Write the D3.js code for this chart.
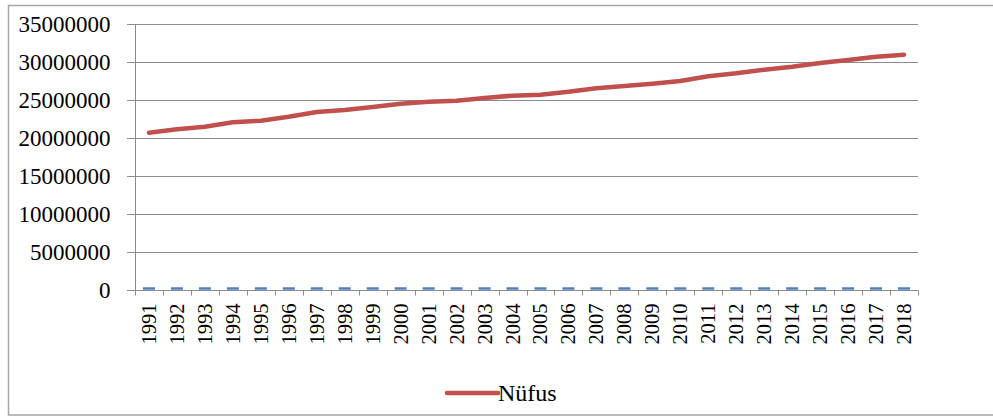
<!DOCTYPE html>
<html>
<head>
<meta charset="utf-8">
<script src="https://cdn.jsdelivr.net/npm/d3@7"></script>
<style>
  body { margin: 0; background: #fff; }
  svg { display: block; }
  text { font-family: "Liberation Serif", "Times New Roman", serif; fill: #000; }
</style>
</head>
<body>
<div id="chart"></div>
<script>
// years on the category axis
const years = [1991, 1992, 1993, 1994, 1995, 1996, 1997, 1998, 1999, 2000,
  2001, 2002, 2003, 2004, 2005, 2006, 2007, 2008, 2009, 2010,
  2011, 2012, 2013, 2014, 2015, 2016, 2017, 2018];

// Nüfus
const nufus = [20700000, 21140000, 21490000, 22070000, 22280000, 22800000, 23420000,
  23680000, 24080000, 24510000, 24780000, 24910000, 25260000, 25570000,
  25700000, 26090000, 26540000, 26840000, 27150000, 27500000, 28120000,
  28510000, 28990000, 29380000, 29870000, 30260000, 30700000, 30960000];

// second series, drawn as blue dash markers sitting on the zero line
const ikinciSeri = [0, 0, 0, 0, 0, 0, 0, 0, 0, 0, 0, 0, 0, 0,
  0, 0, 0, 0, 0, 0, 0, 0, 0, 0, 0, 0, 0, 0];

const yTicks = [0, 5000000, 10000000, 15000000, 20000000, 25000000, 30000000, 35000000];

const width = 993, height = 416;
const margin = { top: 24, right: 75, bottom: 126, left: 135 };

const svg = d3.select("#chart").append("svg")
  .attr("width", width)
  .attr("height", height);

// outer chart border
svg.append("rect")
  .attr("x", 8.5).attr("y", 5.5)
  .attr("width", 990).attr("height", 409.5)
  .attr("fill", "none")
  .attr("stroke", "#a6a6a6")
  .attr("stroke-width", 1.5);

const x = d3.scaleBand()
  .domain(years)
  .range([margin.left, width - margin.right]);

const y = d3.scaleLinear()
  .domain([0, 35000000])
  .range([height - margin.bottom, margin.top]);

// gridlines
svg.append("g")
  .selectAll("line")
  .data(yTicks.filter(d => d > 0))
  .join("line")
  .attr("x1", margin.left - 8)
  .attr("x2", width - margin.right)
  .attr("y1", d => Math.round(y(d)) + 0.5)
  .attr("y2", d => Math.round(y(d)) + 0.5)
  .attr("stroke", "#8c8c8c")
  .attr("stroke-width", 1.2);

// y axis
const yAxis = svg.append("g")
  .attr("transform", `translate(${margin.left + 0.5},0)`)
  .call(d3.axisLeft(y).tickValues(yTicks).tickFormat(d3.format("d")).tickSize(8).tickPadding(17));
yAxis.select(".domain").attr("stroke", "#8c8c8c").attr("d", `M0,${y(35000000)}V${y(0) + 5}`);
yAxis.selectAll(".tick line").attr("stroke", "#8c8c8c");
yAxis.selectAll("text")
  .attr("font-size", 23)
  .attr("font-family", "Liberation Serif")
  .attr("fill", "#000");

// x axis
const xAxis = svg.append("g")
  .attr("transform", `translate(0,${Math.round(y(0)) + 0.5})`)
  .call(d3.axisBottom(x).tickSize(0).tickPadding(0));
xAxis.select(".domain").attr("stroke", "#8c8c8c").attr("d", `M${margin.left - 8},0H${width - margin.right}`);
xAxis.selectAll("text")
  .attr("font-size", 20.5)
  .attr("font-family", "Liberation Serif")
  .attr("fill", "#000")
  .attr("text-anchor", "end")
  .attr("dominant-baseline", "central")
  .attr("transform", "translate(0,13) rotate(-90)")
  .attr("x", 0).attr("y", 0).attr("dy", null);

// category boundary ticks
const bounds = years.map(d => x(d)).concat([x(years[years.length - 1]) + x.bandwidth()]);
xAxis.append("g")
  .selectAll("line")
  .data(bounds)
  .join("line")
  .attr("x1", d => Math.round(d) + 0.5)
  .attr("x2", d => Math.round(d) + 0.5)
  .attr("y1", 0).attr("y2", 5)
  .attr("stroke", "#8c8c8c");

// blue dash markers
svg.append("g")
  .selectAll("line")
  .data(ikinciSeri)
  .join("line")
  .attr("x1", (d, i) => x(years[i]) + x.bandwidth() / 2 - 6)
  .attr("x2", (d, i) => x(years[i]) + x.bandwidth() / 2 + 6)
  .attr("y1", d => y(d) - 1.5)
  .attr("y2", d => y(d) - 1.5)
  .attr("stroke", "#4f81bd")
  .attr("stroke-width", 2.5);

// Nüfus line
const line = d3.line()
  .x((d, i) => x(years[i]) + x.bandwidth() / 2)
  .y(d => y(d));

svg.append("path")
  .datum(nufus)
  .attr("d", line)
  .attr("fill", "none")
  .attr("stroke", "#c0504d")
  .attr("stroke-width", 4.5)
  .attr("stroke-linecap", "round")
  .attr("stroke-linejoin", "round");

// legend
const legend = svg.append("g").attr("transform", "translate(447,393)");
legend.append("line")
  .attr("x1", 0).attr("x2", 51)
  .attr("y1", 0).attr("y2", 0)
  .attr("stroke", "#c0504d")
  .attr("stroke-width", 4.5)
  .attr("stroke-linecap", "round");
legend.append("text")
  .attr("x", 51).attr("y", 7.5)
  .attr("font-size", 24)
  .text("Nüfus");
</script>
</body>
</html>
